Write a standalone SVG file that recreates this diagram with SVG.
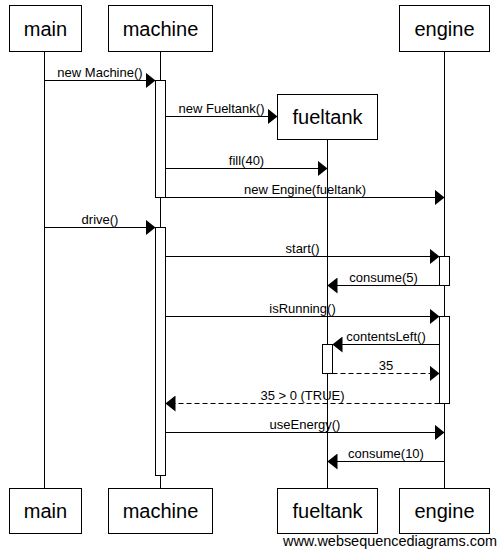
<svg xmlns="http://www.w3.org/2000/svg" width="500" height="552" viewBox="0 0 500 552">
  <style>
    .box { fill: #fff; stroke: #000; stroke-width: 1; }
    .life { stroke: #000; stroke-width: 1; fill: none; }
    .act { fill: #fff; stroke: #000; stroke-width: 1; }
    .msg { stroke: #000; stroke-width: 1; fill: none; marker-end: url(#head); }
    .ret { stroke-dasharray: 5,3; }
    .title { font-family: "Liberation Sans", Arial, sans-serif; font-size: 20px; text-anchor: middle; fill: #000; }
    .label { font-family: "Liberation Sans", Arial, sans-serif; font-size: 13px; text-anchor: middle; fill: #000; }
    .mark { font-family: "Liberation Sans", Arial, sans-serif; font-size: 14px; fill: #000; }
  </style>
  <defs>
    <marker id="head" markerUnits="userSpaceOnUse" markerWidth="10" markerHeight="16" refX="10" refY="8" orient="auto">
      <path d="M0,0 L10,8 L0,16 Z" fill="#000"/>
    </marker>
  </defs>
  <rect width="500" height="552" fill="#fff"/>

  <!-- lifelines -->
  <g id="lifelines">
    <line class="life" x1="44.5" y1="52" x2="44.5" y2="488"/>
    <line class="life" x1="160.5" y1="52" x2="160.5" y2="488"/>
    <line class="life" x1="327.5" y1="139" x2="327.5" y2="488"/>
    <line class="life" x1="444.5" y1="52" x2="444.5" y2="488"/>
  </g>

  <!-- activation bars -->
  <g id="activations">
    <rect class="act" x="155.5" y="80.5" width="10" height="117"/>
    <rect class="act" x="155.5" y="227.5" width="10" height="248"/>
    <rect class="act" x="439.5" y="256.5" width="10" height="29"/>
    <rect class="act" x="439.5" y="316.5" width="10" height="87"/>
    <rect class="act" x="322.5" y="344.5" width="10" height="29"/>
  </g>

  <!-- participants -->
  <g id="main">
    <rect class="box" x="9.5" y="5.5" width="72" height="46"/>
    <text class="title" x="45.5" y="36">main</text>
    <rect class="box" x="9.5" y="488.5" width="72" height="45"/>
    <text class="title" x="45.5" y="518">main</text>
  </g>
  <g id="machine">
    <rect class="box" x="108.5" y="5.5" width="104" height="46"/>
    <text class="title" x="160.5" y="36">machine</text>
    <rect class="box" x="108.5" y="488.5" width="104" height="45"/>
    <text class="title" x="160.5" y="518">machine</text>
  </g>
  <g id="fueltank">
    <rect class="box" x="277.5" y="94.5" width="100" height="45"/>
    <text class="title" x="327.5" y="124">fueltank</text>
    <rect class="box" x="277.5" y="488.5" width="100" height="45"/>
    <text class="title" x="327.5" y="518">fueltank</text>
  </g>
  <g id="engine">
    <rect class="box" x="399.5" y="5.5" width="90" height="46"/>
    <text class="title" x="444.5" y="36">engine</text>
    <rect class="box" x="399.5" y="488.5" width="90" height="45"/>
    <text class="title" x="444.5" y="518">engine</text>
  </g>

  <!-- messages -->
  <g id="connectors">
    <line class="msg" x1="44.5" y1="80.5" x2="155.5" y2="80.5"/>
    <text class="label" x="100" y="77">new Machine()</text>

    <line class="msg" x1="165.5" y1="116.5" x2="277.5" y2="116.5"/>
    <text class="label" x="221.5" y="113">new Fueltank()</text>

    <line class="msg" x1="165.5" y1="168.5" x2="327.5" y2="168.5"/>
    <text class="label" x="246.5" y="165">fill(40)</text>

    <line class="msg" x1="165.5" y1="197.5" x2="444.5" y2="197.5"/>
    <text class="label" x="305" y="194">new Engine(fueltank)</text>

    <line class="msg" x1="44.5" y1="227.5" x2="155.5" y2="227.5"/>
    <text class="label" x="100" y="224">drive()</text>

    <line class="msg" x1="165.5" y1="256.5" x2="439.5" y2="256.5"/>
    <text class="label" x="302.5" y="253">start()</text>

    <line class="msg" x1="439.5" y1="285.5" x2="327.5" y2="285.5"/>
    <text class="label" x="383.5" y="282">consume(5)</text>

    <line class="msg" x1="165.5" y1="316.5" x2="439.5" y2="316.5"/>
    <text class="label" x="302.5" y="313">isRunning()</text>

    <line class="msg" x1="439.5" y1="344.5" x2="332.5" y2="344.5"/>
    <text class="label" x="386" y="341">contentsLeft()</text>

    <line class="msg ret" x1="332.5" y1="373.5" x2="439.5" y2="373.5"/>
    <text class="label" x="386" y="370">35</text>

    <line class="msg ret" x1="439.5" y1="403.5" x2="165.5" y2="403.5"/>
    <text class="label" x="302.5" y="400">35 &gt; 0 (TRUE)</text>

    <line class="msg" x1="165.5" y1="432.5" x2="444.5" y2="432.5"/>
    <text class="label" x="305" y="429">useEnergy()</text>

    <line class="msg" x1="444.5" y1="461.5" x2="327.5" y2="461.5"/>
    <text class="label" x="386" y="458">consume(10)</text>
  </g>

  <text class="mark" x="283" y="546" textLength="214" lengthAdjust="spacingAndGlyphs">www.websequencediagrams.com</text>
</svg>
